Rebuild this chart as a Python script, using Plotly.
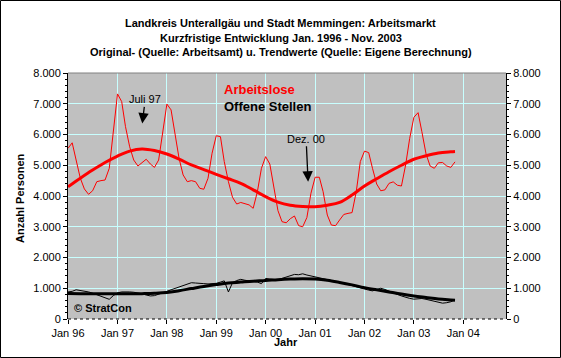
import plotly.graph_objects as go
import pandas as pd

# ---------------- data ----------------
months = pd.date_range("1996-01-01", periods=95, freq="MS")

arbeitslose = [
    5550, 5730, 5170, 4580, 4230, 4055, 4170, 4465, 4500, 4520, 4900, 6200,   # 1996
    7320, 7070, 6255, 5600, 5170, 4975, 5080, 5195, 5040, 4930, 5170, 6150,   # 1997
    6990, 6800, 5985, 5225, 4685, 4465, 4500, 4465, 4250, 4220, 4575, 5390,   # 1998
    5960, 5930, 5120, 4465, 3960, 3740, 3790, 3760, 3710, 3600, 4140, 4900,   # 1999
    5280, 5040, 4250, 3525, 3165, 3130, 3260, 3350, 3035, 3000, 3300, 4090,   # 2000
    4610, 4610, 4140, 3380, 3055, 3035, 3220, 3400, 3435, 3460, 4140, 5120,   # 2001
    5460, 5410, 4900, 4390, 4170, 4200, 4410, 4460, 4350, 4325, 5010, 5875,   # 2002
    6560, 6710, 6090, 5365, 4975, 4900, 5080, 5090, 4975, 4930, 5110,         # 2003
]

offene_stellen = [
    880, 900, 950, 930, 900, 880, 840, 790, 740, 690, 640, 760,               # 1996
    850, 880, 890, 880, 870, 850, 820, 780, 750, 760, 800, 860,               # 1997
    900, 950, 990, 1030, 1070, 1120, 1180, 1170, 1150, 1150, 1140, 1150,      # 1998
    1160, 1200, 1240, 880, 1180, 1250, 1290, 1260, 1240, 1240, 1200, 1150,    # 1999
    1320, 1300, 1280, 1270, 1320, 1360, 1400, 1450, 1440, 1470, 1430, 1400,   # 2000
    1370, 1350, 1330, 1290, 1250, 1220, 1190, 1160, 1120, 1080, 1040, 1000,   # 2001
    970, 940, 915, 950, 1000, 960, 915, 860, 800, 750, 700, 670,              # 2002
    645, 660, 667, 640, 610, 590, 540, 515, 530, 560, 625,                    # 2003
]

trend_dates = list(pd.date_range("1996-01-01", "2003-10-01", freq="QS")) + [pd.Timestamp("2003-11-01")]

trend_arbeitslose = [
    4300, 4580, 4845, 5090,
    5300, 5460, 5530, 5480,
    5365, 5200, 5010, 4860,
    4705, 4560, 4410, 4200,
    3980, 3800, 3700, 3660,
    3650, 3700, 3790, 4030,
    4325, 4560, 4790, 5000,
    5195, 5310, 5400, 5440, 5450,
]

trend_offene = [
    830, 825, 820, 820,
    820, 820, 825, 835,
    860, 920, 990, 1060,
    1120, 1170, 1200, 1230,
    1250, 1280, 1300, 1310,
    1300, 1260, 1190, 1110,
    1020, 950, 880, 810,
    750, 700, 650, 620, 610,
]

x_tick_dates = [f"{y}-01-01" for y in range(1996, 2005)]
x_tick_labels = ["Jan 96", "Jan 97", "Jan 98", "Jan 99", "Jan 00", "Jan 01", "Jan 02", "Jan 03", "Jan 04"]
y_tick_vals = [0, 1000, 2000, 3000, 4000, 5000, 6000, 7000, 8000]
y_tick_labels = ["0", "1.000", "2.000", "3.000", "4.000", "5.000", "6.000", "7.000", "8.000"]

title_lines = [
    "Landkreis Unterallgäu und Stadt Memmingen: Arbeitsmarkt",
    "Kurzfristige Entwicklung Jan. 1996 - Nov. 2003",
    "Original- (Quelle: Arbeitsamt) u. Trendwerte (Quelle: Eigene Berechnung)",
]

# ---------------- figure ----------------
W, H = 561, 358
L, R, T, B = 68, 55, 73, 39
PW, PH = W - L - R, H - T - B

def px(xp):
    return (xp - L) / PW

def py(yp):
    return (H - B - yp) / PH

FONT = "Liberation Sans, Arial, sans-serif"

fig = go.Figure()

fig.add_trace(go.Scatter(x=months, y=offene_stellen, mode="lines",
                         line=dict(color="black", width=1), showlegend=False))
fig.add_trace(go.Scatter(x=trend_dates, y=trend_offene, mode="lines",
                         line=dict(color="black", width=3, shape="spline"), showlegend=False))
fig.add_trace(go.Scatter(x=months, y=arbeitslose, mode="lines",
                         line=dict(color="#FF0000", width=1), showlegend=False))
fig.add_trace(go.Scatter(x=trend_dates, y=trend_arbeitslose, mode="lines",
                         line=dict(color="#FF0000", width=3, shape="spline"), showlegend=False))
# invisible trace for the right axis
fig.add_trace(go.Scatter(x=[months[0]], y=[0], yaxis="y2", mode="markers",
                         marker=dict(opacity=0), showlegend=False, hoverinfo="skip"))

grid_col = "#C8FFFF"

fig.update_layout(
    width=W, height=H,
    margin=dict(l=L, r=R, t=T, b=B),
    paper_bgcolor="white",
    plot_bgcolor="#C0C0C0",
    font=dict(family=FONT, size=11, color="black"),
    xaxis=dict(
        type="date",
        range=["1996-01-01", "2004-11-12"],
        tickvals=x_tick_dates, ticktext=x_tick_labels,
        ticks="outside", ticklen=4, tickcolor="black",
        showgrid=True, gridcolor=grid_col, gridwidth=1,
        showline=False, zeroline=False,
        tickfont=dict(size=11),
    ),
    yaxis=dict(
        range=[0, 8000],
        tickvals=y_tick_vals, ticktext=y_tick_labels,
        ticks="outside", ticklen=4, tickcolor="black",
        minor=dict(dtick=200, ticks="outside", ticklen=2, tickcolor="black", showgrid=False),
        showgrid=True, gridcolor=grid_col, gridwidth=1,
        showline=True, linecolor="black", linewidth=1,
        zeroline=False,
        tickfont=dict(size=11),
    ),
    yaxis2=dict(
        overlaying="y", side="right",
        range=[0, 8000],
        tickvals=y_tick_vals, ticktext=y_tick_labels,
        ticks="outside", ticklen=4, tickcolor="black",
        minor=dict(dtick=200, ticks="outside", ticklen=2, tickcolor="black", showgrid=False),
        showgrid=False, showline=True, linecolor="black", linewidth=1,
        zeroline=False,
        tickfont=dict(size=11),
    ),
)

shapes = [
    # dotted bottom axis
    dict(type="line", xref="paper", yref="paper", x0=0, x1=1, y0=0, y1=0,
         line=dict(color="black", width=1, dash="dot")),
    # top border of plot area
    dict(type="line", xref="paper", yref="paper", x0=0, x1=1, y0=1, y1=1,
         line=dict(color="#808080", width=1)),
    # outer frame of the whole picture
    dict(type="rect", xref="paper", yref="paper",
         x0=px(0.5), x1=px(W - 0.5), y0=py(H - 0.5), y1=py(0.5),
         line=dict(color="black", width=1)),
]
fig.update_layout(shapes=shapes)

ann = []
for line, yp in zip(title_lines, [23, 38, 52]):
    ann.append(dict(text=f"<b>{line}</b>", xref="paper", yref="paper",
                    x=px(280.5), y=py(yp), xanchor="center", yanchor="middle",
                    showarrow=False, font=dict(size=11)))

ann.append(dict(text="<b>Arbeitslose</b>", xref="paper", yref="paper",
                x=px(222), y=py(89.5), xanchor="left", yanchor="middle",
                showarrow=False, font=dict(size=13, color="#FF0000")))
ann.append(dict(text="<b>Offene Stellen</b>", xref="paper", yref="paper",
                x=px(222), y=py(106.5), xanchor="left", yanchor="middle",
                showarrow=False, font=dict(size=13, color="black")))
ann.append(dict(text="<b>© StratCon</b>", xref="paper", yref="paper",
                x=px(72), y=py(307.5), xanchor="left", yanchor="middle",
                showarrow=False, font=dict(size=11)))
ann.append(dict(text="<b>Anzahl Personen</b>", xref="paper", yref="paper",
                x=px(20), y=py(198), xanchor="center", yanchor="middle",
                textangle=-90, showarrow=False, font=dict(size=11)))
ann.append(dict(text="<b>Jahr</b>", xref="paper", yref="paper",
                x=px(286), y=py(342), xanchor="center", yanchor="middle",
                showarrow=False, font=dict(size=11)))

# arrow annotations
ann.append(dict(text="Juli 97", x="1997-07-03", y=6360, xref="x", yref="y",
                showarrow=True, arrowhead=2, arrowsize=1.6, arrowwidth=1.3,
                arrowcolor="black", ax=3, ay=-24, font=dict(size=11)))
ann.append(dict(text="Dez. 00", x="2000-11-10", y=4465, xref="x", yref="y",
                showarrow=True, arrowhead=2, arrowsize=1.6, arrowwidth=1.3,
                arrowcolor="black", ax=-2, ay=-43, font=dict(size=11)))

fig.update_layout(annotations=ann)

fig.write_html("out.html",
               config={"displayModeBar": False},
               post_script="document.body.style.margin='0px';document.body.style.overflow='hidden';")
